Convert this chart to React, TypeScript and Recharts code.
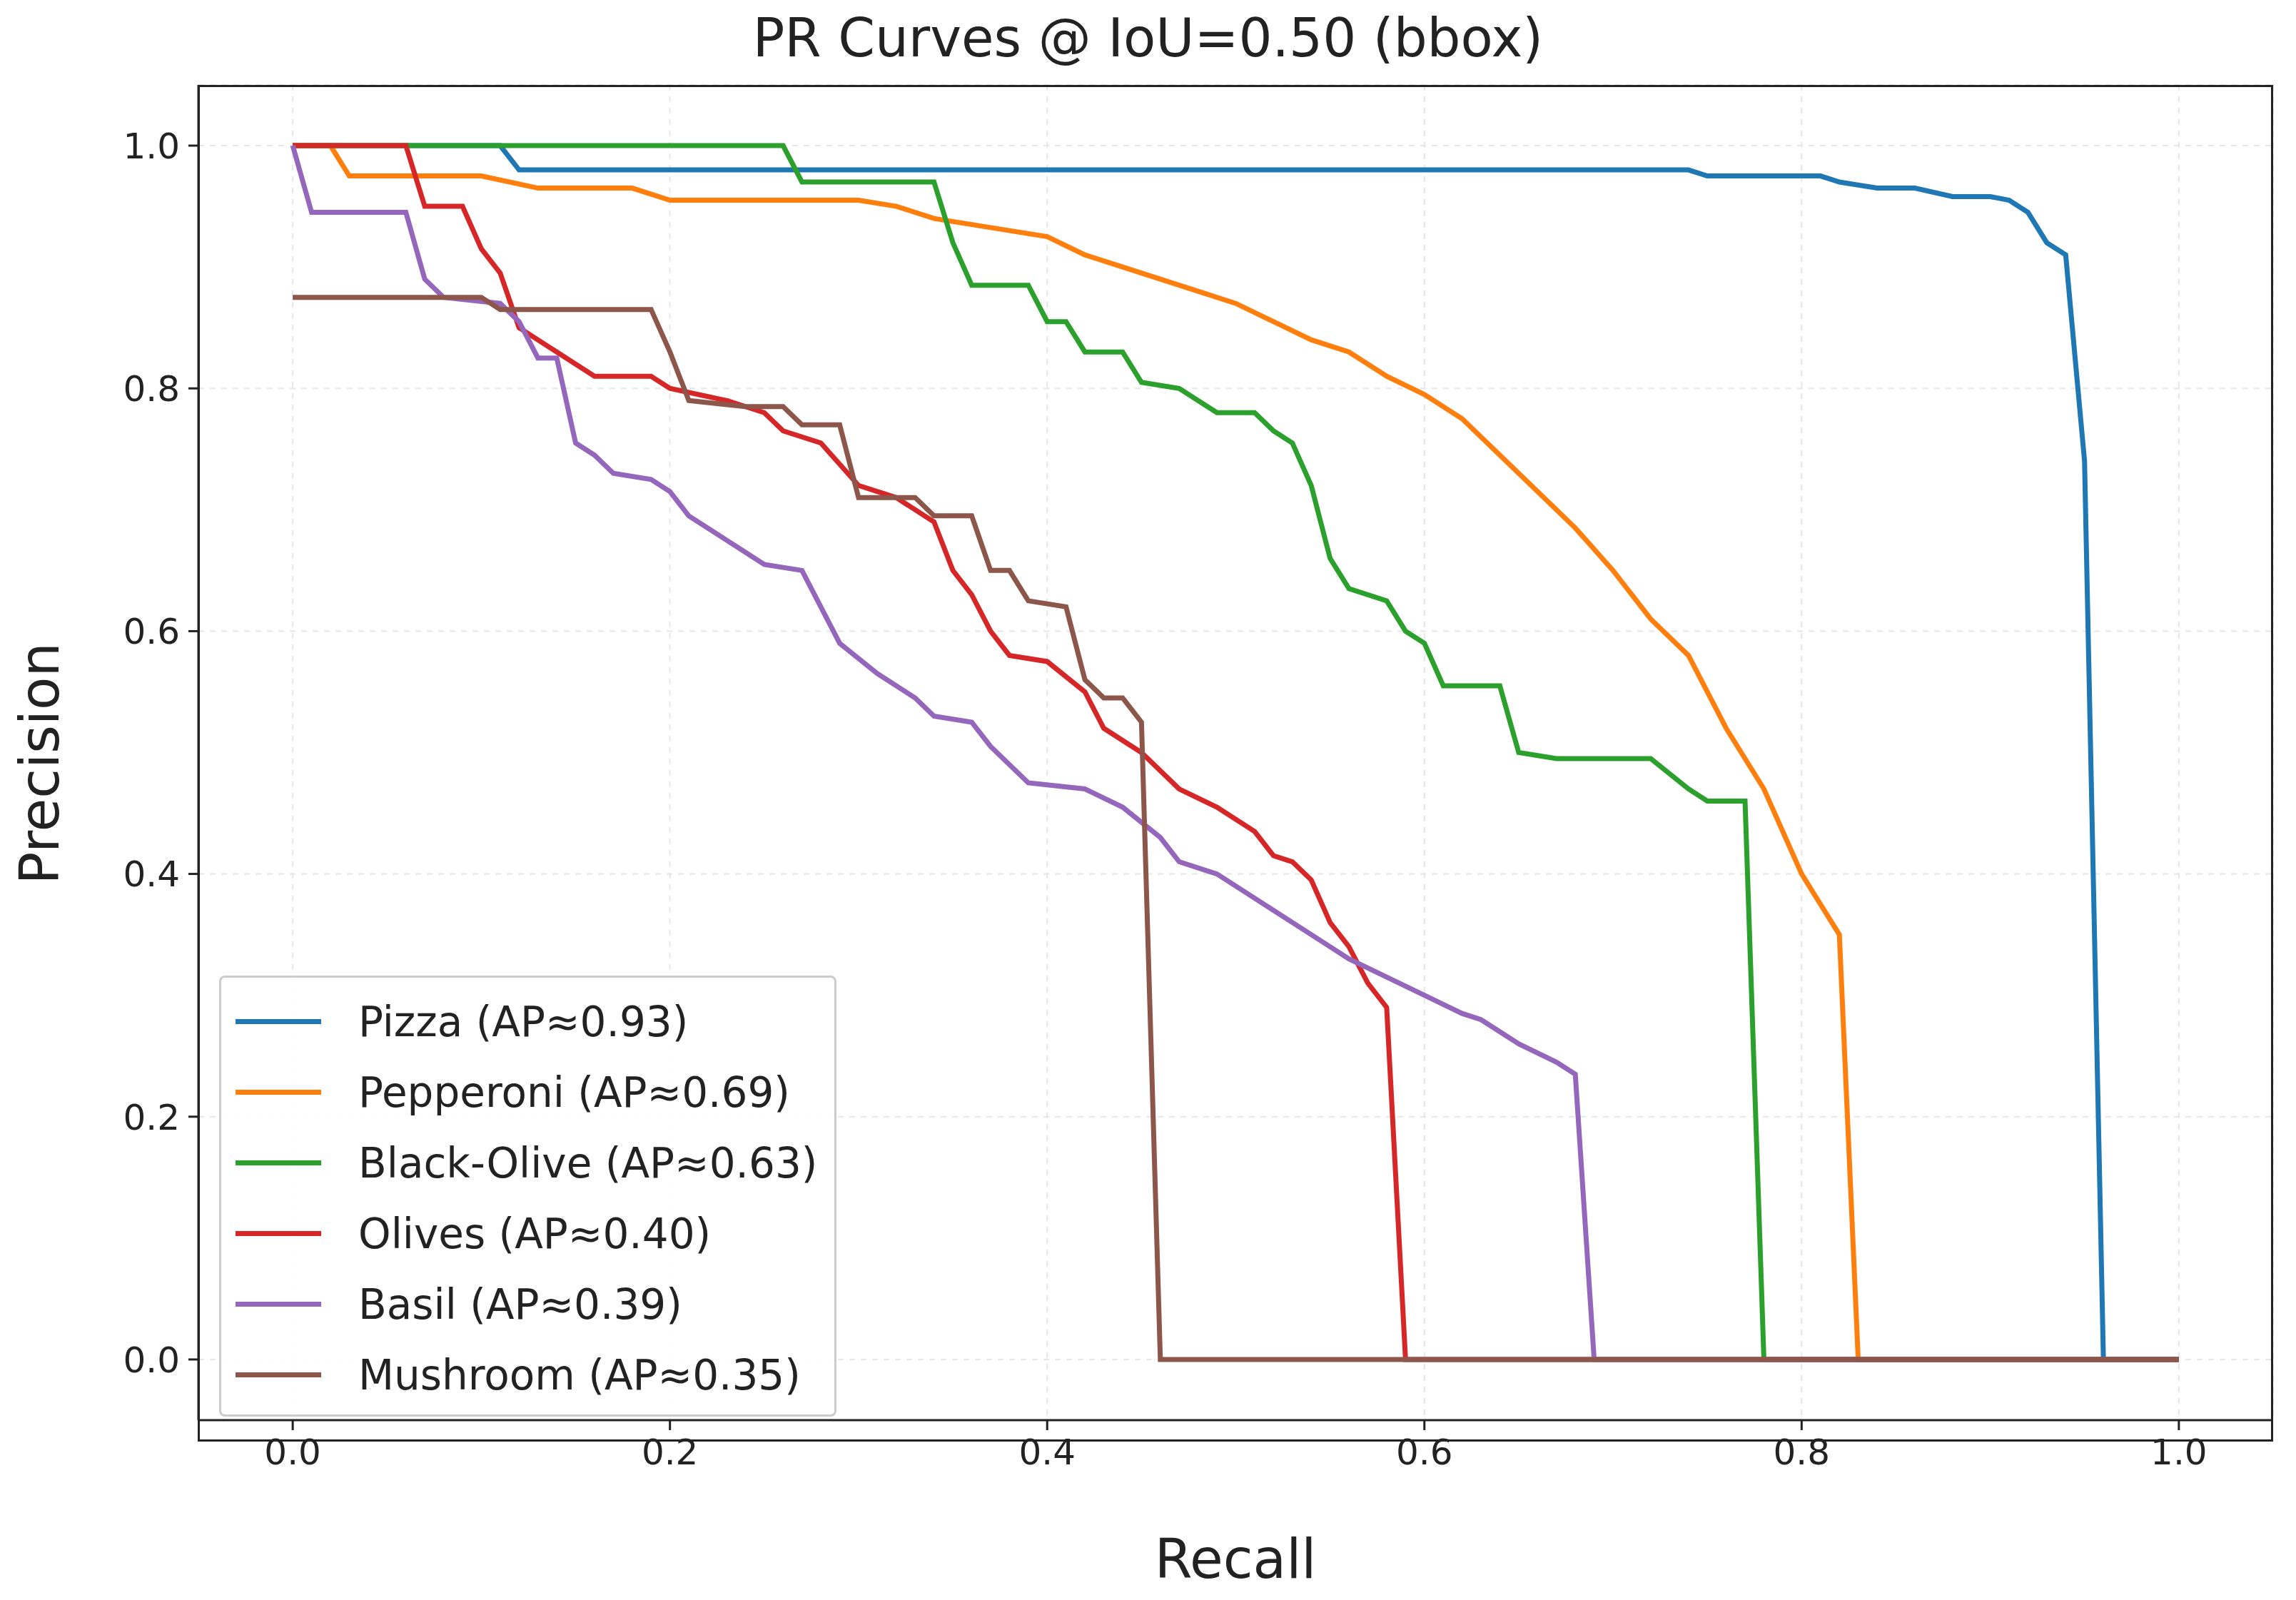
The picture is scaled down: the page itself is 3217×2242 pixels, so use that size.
import { LineChart, Line, XAxis, YAxis, CartesianGrid } from 'recharts'

type Pt = [number, number]

const pizza: Pt[] = [[0,1],[0.11,1],[0.12,0.98],[0.74,0.98],[0.75,0.975],[0.81,0.975],[0.82,0.97],[0.84,0.965],[0.86,0.965],[0.88,0.958],[0.9,0.958],[0.91,0.955],[0.92,0.945],[0.93,0.92],[0.94,0.91],[0.95,0.74],[0.96,0],[1,0]]
const pepperoni: Pt[] = [[0,1],[0.02,1],[0.03,0.975],[0.1,0.975],[0.13,0.965],[0.18,0.965],[0.2,0.955],[0.3,0.955],[0.32,0.95],[0.34,0.94],[0.36,0.935],[0.38,0.93],[0.4,0.925],[0.42,0.91],[0.44,0.9],[0.46,0.89],[0.48,0.88],[0.5,0.87],[0.52,0.855],[0.54,0.84],[0.56,0.83],[0.58,0.81],[0.6,0.795],[0.62,0.775],[0.64,0.745],[0.66,0.715],[0.68,0.685],[0.7,0.65],[0.72,0.61],[0.74,0.58],[0.76,0.52],[0.78,0.47],[0.8,0.4],[0.82,0.35],[0.83,0],[1,0]]
const blackOlive: Pt[] = [[0,1],[0.26,1],[0.27,0.97],[0.34,0.97],[0.35,0.92],[0.36,0.885],[0.39,0.885],[0.4,0.855],[0.41,0.855],[0.42,0.83],[0.44,0.83],[0.45,0.805],[0.47,0.8],[0.49,0.78],[0.51,0.78],[0.52,0.765],[0.53,0.755],[0.54,0.72],[0.55,0.66],[0.56,0.635],[0.58,0.625],[0.59,0.6],[0.6,0.59],[0.61,0.555],[0.64,0.555],[0.65,0.5],[0.67,0.495],[0.72,0.495],[0.74,0.47],[0.75,0.46],[0.77,0.46],[0.78,0],[1,0]]
const olives: Pt[] = [[0,1],[0.06,1],[0.07,0.95],[0.09,0.95],[0.1,0.915],[0.11,0.895],[0.12,0.85],[0.14,0.83],[0.16,0.81],[0.19,0.81],[0.2,0.8],[0.23,0.79],[0.25,0.78],[0.26,0.765],[0.28,0.755],[0.3,0.72],[0.32,0.71],[0.34,0.69],[0.35,0.65],[0.36,0.63],[0.37,0.6],[0.38,0.58],[0.4,0.575],[0.42,0.55],[0.43,0.52],[0.45,0.5],[0.47,0.47],[0.49,0.455],[0.51,0.435],[0.52,0.415],[0.53,0.41],[0.54,0.395],[0.55,0.36],[0.56,0.34],[0.57,0.31],[0.58,0.29],[0.59,0],[1,0]]
const basil: Pt[] = [[0,1],[0.01,0.945],[0.06,0.945],[0.07,0.89],[0.08,0.875],[0.11,0.87],[0.12,0.855],[0.13,0.825],[0.14,0.825],[0.15,0.755],[0.16,0.745],[0.17,0.73],[0.19,0.725],[0.2,0.715],[0.21,0.695],[0.23,0.675],[0.25,0.655],[0.27,0.65],[0.29,0.59],[0.31,0.565],[0.33,0.545],[0.34,0.53],[0.36,0.525],[0.37,0.505],[0.39,0.475],[0.42,0.47],[0.44,0.455],[0.46,0.43],[0.47,0.41],[0.49,0.4],[0.51,0.38],[0.53,0.36],[0.55,0.34],[0.56,0.33],[0.58,0.315],[0.6,0.3],[0.62,0.285],[0.63,0.28],[0.65,0.26],[0.67,0.245],[0.68,0.235],[0.69,0],[1,0]]
const mushroom: Pt[] = [[0,0.875],[0.1,0.875],[0.11,0.865],[0.19,0.865],[0.2,0.83],[0.21,0.79],[0.24,0.785],[0.26,0.785],[0.27,0.77],[0.29,0.77],[0.3,0.71],[0.33,0.71],[0.34,0.695],[0.36,0.695],[0.37,0.65],[0.38,0.65],[0.39,0.625],[0.41,0.62],[0.42,0.56],[0.43,0.545],[0.44,0.545],[0.45,0.525],[0.46,0],[1,0]]

const series = [
  { name: 'Pizza (AP≈0.93)', color: '#1f77b4', pts: pizza },
  { name: 'Pepperoni (AP≈0.69)', color: '#ff7f0e', pts: pepperoni },
  { name: 'Black-Olive (AP≈0.63)', color: '#2ca02c', pts: blackOlive },
  { name: 'Olives (AP≈0.40)', color: '#d62728', pts: olives },
  { name: 'Basil (AP≈0.39)', color: '#9467bd', pts: basil },
  { name: 'Mushroom (AP≈0.35)', color: '#8c564b', pts: mushroom },
]

const ticks = [0, 0.2, 0.4, 0.6, 0.8, 1.0]

const W = 3217
const H = 2242
const M = { left: 277, right: 32, top: 119, bottom: 222 }
const font = '"DejaVu Sans", sans-serif'

export default function App() {
  const tick = { fontSize: 50, fill: '#222', fontFamily: font }
  return (
    <div style={{ position: 'relative', width: W, height: H, margin: '-8px 0 0 -8px', background: '#fff', fontFamily: font, color: '#222' }}>
      <LineChart width={W} height={H} margin={M}>
        <CartesianGrid strokeDasharray="8 8" stroke="#e6e6e6" strokeWidth={2} />
        <XAxis type="number" dataKey="x" domain={[-0.05, 1.05]} ticks={ticks} tickFormatter={(v) => v.toFixed(1)}
          tick={tick} tickSize={14} tickMargin={12} stroke="#222" strokeWidth={3} allowDataOverflow />
        <YAxis type="number" dataKey="y" domain={[-0.05, 1.05]} ticks={ticks} tickFormatter={(v) => v.toFixed(1)}
          tick={tick} tickSize={14} tickMargin={12} stroke="#222" strokeWidth={3} width={1} allowDataOverflow />
        {series.map((s) => (
          <Line key={s.name} data={s.pts.map(([x, y]) => ({ x, y }))} dataKey="y" name={s.name} type="linear"
            stroke={s.color} strokeWidth={7} dot={false} isAnimationActive={false} />
        ))}
      </LineChart>
      <div style={{ position: 'absolute', top: 10, width: W, textAlign: 'center', fontSize: 74 }}>PR Curves @ IoU=0.50 (bbox)</div>
      <div style={{ position: 'absolute', top: 2140, left: M.left, width: W - M.left - M.right, textAlign: 'center', fontSize: 76 }}>Recall</div>
      <div style={{ position: 'absolute', left: 55, top: 1070, fontSize: 76, transform: 'translate(-50%, -50%) rotate(-90deg)', whiteSpace: 'nowrap' }}>Precision</div>
      <div style={{ position: 'absolute', left: M.left, top: M.top, width: W - M.left - M.right, height: H - M.top - M.bottom, border: '3px solid #222', boxSizing: 'border-box', pointerEvents: 'none' }} />
      <div style={{ position: 'absolute', left: 307, top: 1367, border: '3px solid #ccc', borderRadius: 8, background: 'rgba(255,255,255,0.9)', padding: '12px 24px 6px 20px', fontSize: 58 }}>
        {series.map((s) => (
          <div key={s.name} style={{ display: 'flex', alignItems: 'center', height: 99 }}>
            <div style={{ width: 120, height: 7, background: s.color, marginRight: 52 }} />
            <span>{s.name}</span>
          </div>
        ))}
      </div>
    </div>
  )
}
